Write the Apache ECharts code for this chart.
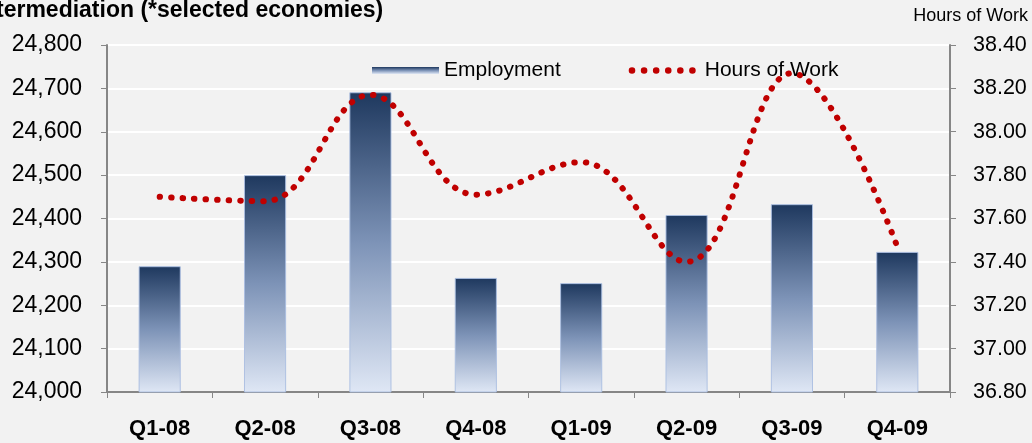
<!DOCTYPE html>
<html>
<head>
<meta charset="utf-8">
<script src="https://cdn.jsdelivr.net/npm/echarts@6/dist/echarts.min.js"></script>
<style>
  html, body { margin: 0; padding: 0; background: #f2f2f2; }
  #chart { width: 1032px; height: 443px; }
</style>
</head>
<body>
<div id="chart"></div>
<script>
const categories = ["Q1-08", "Q2-08", "Q3-08", "Q4-08", "Q1-09", "Q2-09", "Q3-09", "Q4-09"];
const employment = [24290, 24500, 24691, 24263, 24251, 24408, 24433, 24323];
const hoursOfWork = [37.70, 37.68, 38.17, 37.71, 37.86, 37.40, 38.27, 37.47];

const chart = echarts.init(document.getElementById("chart"));
const font = "Arial, 'Liberation Sans', sans-serif";

// six red dots for the legend of the dotted line
let dots = "path://";
for (let i = 0; i < 6; i++) {
  const cx = 3 + i * 11;
  dots += "M" + (cx - 3) + ",3 a3,3 0 1,0 6,0 a3,3 0 1,0 -6,0 Z ";
}

chart.setOption({
  backgroundColor: "#f2f2f2",
  animation: false,
  textStyle: { fontFamily: font },
  graphic: [
    {
      type: "text",
      left: -4,
      top: -1,
      style: {
        text: "termediation (*selected economies)",
        font: "bold 23px " + font,
        fill: "#000",
      },
    },
    {
      type: "text",
      right: 4,
      top: 7,
      style: {
        text: "Hours of Work",
        font: "18px " + font,
        fill: "#000",
      },
    },
  ],
  legend: {
    top: 55,
    left: 367,
    itemGap: 68,
    itemWidth: 67,
    itemHeight: 7,
    textStyle: { fontSize: 21, color: "#000" },
    data: [
      { name: "Employment", icon: "rect", itemStyle: { borderWidth: 0 } },
      {
        name: "Hours of Work",
        icon: dots,
        itemStyle: { color: "#c00000" },
        textStyle: { padding: [0, 0, 0, 4] },
      },
    ],
  },
  grid: { left: 107, right: 82, top: 45, bottom: 51 },
  xAxis: {
    type: "category",
    data: categories,
    axisLine: { lineStyle: { color: "#868686", width: 2 } },
    axisTick: { show: true, length: 6, lineStyle: { color: "#868686", width: 1 } },
    axisLabel: { fontSize: 22, fontWeight: "bold", color: "#000", margin: 26 },
  },
  yAxis: [
    {
      type: "value",
      min: 24000,
      max: 24800,
      interval: 100,
      axisLine: { show: true, lineStyle: { color: "#868686", width: 2 } },
      axisTick: { show: true, length: 6, lineStyle: { color: "#868686" } },
      splitLine: { lineStyle: { color: "#ffffff", width: 2 } },
      axisLabel: {
        fontSize: 23,
        color: "#000",
        margin: 25,
        formatter: (v) => v.toLocaleString("en-US"),
      },
    },
    {
      type: "value",
      min: 36.8,
      max: 38.4,
      interval: 0.2,
      axisLine: { show: true, lineStyle: { color: "#868686", width: 2 } },
      axisTick: { show: true, length: 6, lineStyle: { color: "#868686" } },
      splitLine: { show: false },
      axisLabel: {
        fontSize: 21.5,
        color: "#000",
        margin: 23,
        formatter: (v) => v.toFixed(2),
      },
    },
  ],
  series: [
    {
      name: "Employment",
      type: "bar",
      data: employment,
      barWidth: "40%",
      itemStyle: {
        color: new echarts.graphic.LinearGradient(0, 0, 0, 1, [
          { offset: 0, color: "#1e385e" },
          { offset: 0.5, color: "#7d93b7" },
          { offset: 1, color: "#dfe7f5" },
        ]),
        borderColor: "rgba(170,190,225,0.9)",
        borderWidth: 1,
      },
    },
    {
      name: "Hours of Work",
      type: "line",
      yAxisIndex: 1,
      data: hoursOfWork,
      smooth: 0.4,
      symbol: "none",
      lineStyle: { color: "#c00000", width: 6, type: [0.5, 11], cap: "round" },
      itemStyle: { color: "#c00000" },
    },
  ],
});
</script>
</body>
</html>
